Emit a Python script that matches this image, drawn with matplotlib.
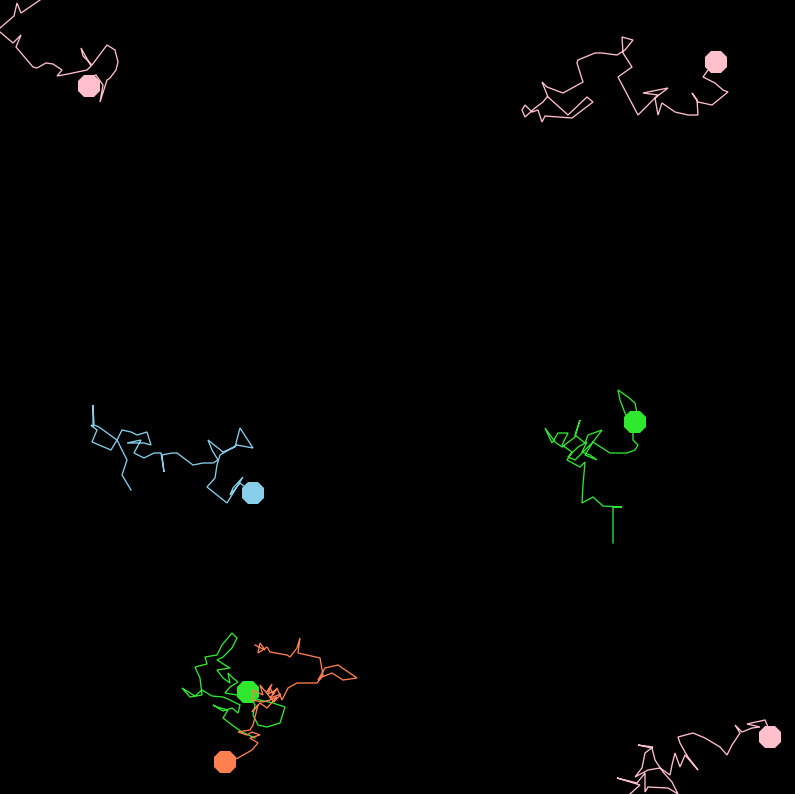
import matplotlib
matplotlib.use("Agg")
import matplotlib.pyplot as plt

# walker trails in screen pixels (x right, y down); last point is the walker itself
pink_tl_x = [40, 21, 17, 14, 0, -4, 0, 13, 21, 16, 33, 37, 46, 53, 62, 57, 68, 87, 91, 81, 83, 92,
             107, 115, 118, 116, 110, 107, 100, 103, 96, 80, 89]
pink_tl_y = [0, 13, 3, 16, 28, 30, 32, 43, 35, 47, 67, 68, 63, 64, 70, 76, 74, 70, 66, 48, 56, 65,
             45, 50, 62, 70, 78, 80, 102, 85, 75, 80, 86]

pink_tr_x = [547, 543, 535, 525, 522, 525, 532, 538, 542, 545, 572, 593, 587, 568, 548, 542, 547,
             563, 583, 577, 578, 595, 602, 617, 625, 633, 622, 623, 632, 618, 638, 658, 643, 668,
             655, 658, 662, 675, 688, 698, 697, 692, 698, 712, 728, 723, 715, 703, 708, 716]
pink_tr_y = [97, 102, 108, 117, 110, 105, 112, 110, 122, 116, 118, 102, 97, 115, 97, 82, 87,
             93, 82, 63, 60, 53, 53, 55, 50, 40, 37, 53, 67, 77, 115, 95, 93, 88,
             98, 115, 103, 112, 115, 115, 100, 93, 102, 105, 92, 90, 83, 77, 70, 62]

pink_br_x = [630, 640, 617, 637, 645, 645, 648, 668, 678, 672, 663, 655, 652, 638, 653, 645, 642,
             635, 648, 660, 670, 672, 675, 680, 685, 698, 688, 685, 680, 678, 693, 705, 720, 727,
             732, 740, 735, 742, 752, 760, 747, 765, 768, 770]
pink_br_y = [794, 785, 778, 783, 773, 792, 787, 788, 794, 782, 772, 760, 748, 745, 747, 753, 768,
             777, 770, 768, 775, 765, 753, 767, 755, 770, 757, 752, 743, 737, 733, 738, 747, 755,
             745, 733, 725, 732, 728, 727, 724, 720, 727, 737]

blue_x = [131, 122, 127, 117, 111, 92, 97, 91, 93, 93, 94, 99, 117, 122, 131, 137, 147, 151, 144,
          127, 141, 134, 144, 154, 161, 164, 162, 172, 177, 193, 203, 213, 218, 212, 208,
          223, 235, 240, 253, 237, 220, 217, 215, 207, 227, 243, 233, 230, 240, 253]
blue_y = [490, 475, 460, 440, 450, 442, 430, 425, 427, 405, 425, 427, 440, 430, 432, 435, 432, 445,
          443, 443, 440, 453, 458, 453, 453, 472, 455, 453, 453, 465, 463, 463, 460, 450, 440,
          452, 447, 428, 448, 445, 455, 465, 478, 487, 503, 477, 488, 495, 483, 493]

green_r_x = [613, 613, 622, 603, 593, 582, 583, 585, 580, 567, 572, 562, 568, 558, 552, 545, 555,
             562, 575, 577, 580, 575, 585, 588, 602, 593, 585, 597, 590, 582, 587, 578, 568, 575,
             588, 593, 610, 627, 635, 638, 633, 633, 625, 620, 618, 628, 635, 637, 635]
green_r_y = [543, 507, 507, 506, 497, 503, 485, 462, 467, 460, 452, 445, 433, 433, 443, 428, 442,
             447, 437, 430, 420, 435, 443, 435, 430, 442, 455, 460, 455, 452, 442, 447, 457, 460,
             447, 442, 453, 453, 450, 445, 440, 432, 413, 400, 390, 397, 403, 413, 422]

green_b_x = [255, 242, 232, 223, 228, 217, 213, 223, 232, 238, 240, 228, 223, 212, 202, 195, 182,
             190, 202, 200, 195, 207, 205, 217, 222, 232, 237, 232, 223, 217, 225, 230, 217, 223,
             230, 228, 233, 238, 230, 225, 237, 242, 250, 260, 273, 285, 280, 267, 258, 253, 255,
             248]
green_b_y = [738, 732, 725, 718, 710, 707, 705, 711, 708, 713, 705, 699, 697, 696, 690, 696, 688,
             697, 695, 678, 667, 664, 657, 655, 645, 633, 638, 648, 657, 660, 665, 668, 670, 678,
             683, 673, 678, 682, 687, 693, 695, 688, 697, 700, 703, 707, 723, 727, 725, 715, 705,
             692]

coral_x = [255, 265, 260, 258, 267, 270, 287, 290, 297, 300, 298, 307, 320, 323, 318, 325, 338,
           357, 343, 332, 322, 317, 297, 288, 282, 277, 273, 270, 267, 272, 268, 276, 270, 281,
           274, 260, 263, 253, 252, 263, 270, 277, 267, 260, 252, 258, 255, 253, 250, 238, 247,
           252, 260, 250, 258, 252, 238, 225]
coral_y = [645, 650, 643, 653, 647, 652, 655, 657, 648, 638, 653, 655, 658, 675, 680, 668, 665,
           678, 680, 673, 677, 683, 683, 688, 700, 688, 695, 687, 692, 684, 694, 690, 698, 694,
           702, 685, 695, 690, 700, 702, 700, 697, 708, 703, 712, 705, 717, 725, 730, 732, 735,
           732, 735, 738, 743, 750, 758, 762]

walkers = [
    (pink_tl_x, pink_tl_y, "#ffc0cb"),
    (pink_tr_x, pink_tr_y, "#ffc0cb"),
    (pink_br_x, pink_br_y, "#ffc0cb"),
    (blue_x, blue_y, "#87ceeb"),
    (green_r_x, green_r_y, "#2ee82e"),
    (green_b_x, green_b_y, "#2ee82e"),
    (coral_x, coral_y, "#ff7f50"),
]

fig = plt.figure(figsize=(7.95, 7.94), dpi=100, facecolor="black")
ax = fig.add_axes([0, 0, 1, 1])
ax.set_facecolor("black")
ax.set_xlim(0, 795)
ax.set_ylim(794, 0)
ax.axis("off")

for xs, ys, c in walkers:
    ax.plot(xs, ys, color=c, lw=0.95, solid_joinstyle="miter")
    ax.plot(xs[-1], ys[-1], marker="8", color=c, markersize=17.5, markeredgewidth=0)

fig.savefig("out.png", facecolor="black")
